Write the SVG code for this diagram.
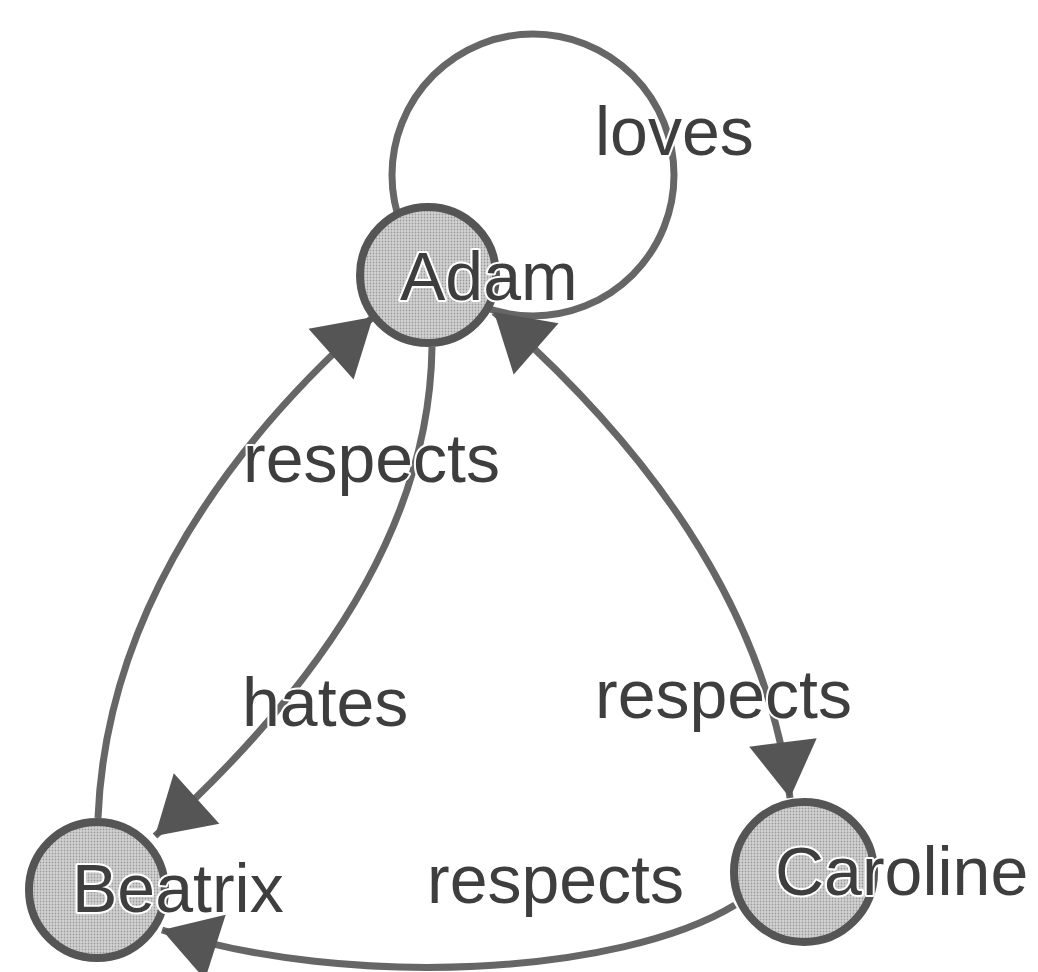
<svg xmlns="http://www.w3.org/2000/svg" width="1038" height="972" viewBox="0 0 1038 972">
  <defs>
    <!-- halftone fill used for the person nodes -->
    <pattern id="dots" width="3" height="3" patternUnits="userSpaceOnUse">
      <rect width="3" height="3" fill="#d4d4d4"/>
      <circle cx="1.5" cy="1.5" r="0.9" fill="#9a9a9a"/>
    </pattern>
    <marker id="head" markerUnits="userSpaceOnUse" markerWidth="60" markerHeight="70"
            refX="56" refY="34" orient="auto-start-reverse" overflow="visible">
      <path d="M0,0 L56,34 L0,68 Z" fill="#555"/>
    </marker>
    <style>
      .edge { fill: none; stroke: #666; stroke-width: 7; }
      .arrow { marker-end: url(#head); }
      .both { marker-start: url(#head); marker-end: url(#head); }
      .node circle { fill: url(#dots); stroke: #555; stroke-width: 8; }
      text { font-family: "Liberation Sans", Arial, sans-serif; font-size: 68px; fill: #3e3e3e;
             stroke: #fff; stroke-width: 4; paint-order: stroke; stroke-linejoin: round; }
    </style>
  </defs>

  <rect width="1038" height="972" fill="#fff"/>

  <g id="connectors">
    <!-- Adam loves Adam: self loop -->
    <circle class="edge" cx="533" cy="175" r="141"/>
    <!-- Beatrix respects Adam -->
    <path class="edge arrow" d="M98,818 C105,640 200,470 373,317"/>
    <!-- Adam hates Beatrix -->
    <path class="edge arrow" d="M432,347 C430,500 350,660 155,836"/>
    <!-- Adam and Caroline respect each other -->
    <path class="edge both" d="M494,312 C640,440 765,600 790,798"/>
    <!-- Caroline respects Beatrix -->
    <path class="edge arrow" d="M735,905 C620,975 350,990 162,930"/>
  </g>

  <g id="edge-labels">
    <text x="595" y="155">loves</text>
    <text x="243" y="482">respects</text>
    <text x="242" y="726">hates</text>
    <text x="595" y="718">respects</text>
    <text x="427" y="903">respects</text>
  </g>

  <g id="adam" class="node">
    <circle cx="428" cy="275" r="68"/>
    <text x="400" y="300">Adam</text>
  </g>
  <g id="beatrix" class="node">
    <circle cx="97" cy="890" r="68"/>
    <text x="72" y="912">Beatrix</text>
  </g>
  <g id="caroline" class="node">
    <circle cx="804" cy="872" r="70"/>
    <text x="775" y="895">Caroline</text>
  </g>
</svg>
